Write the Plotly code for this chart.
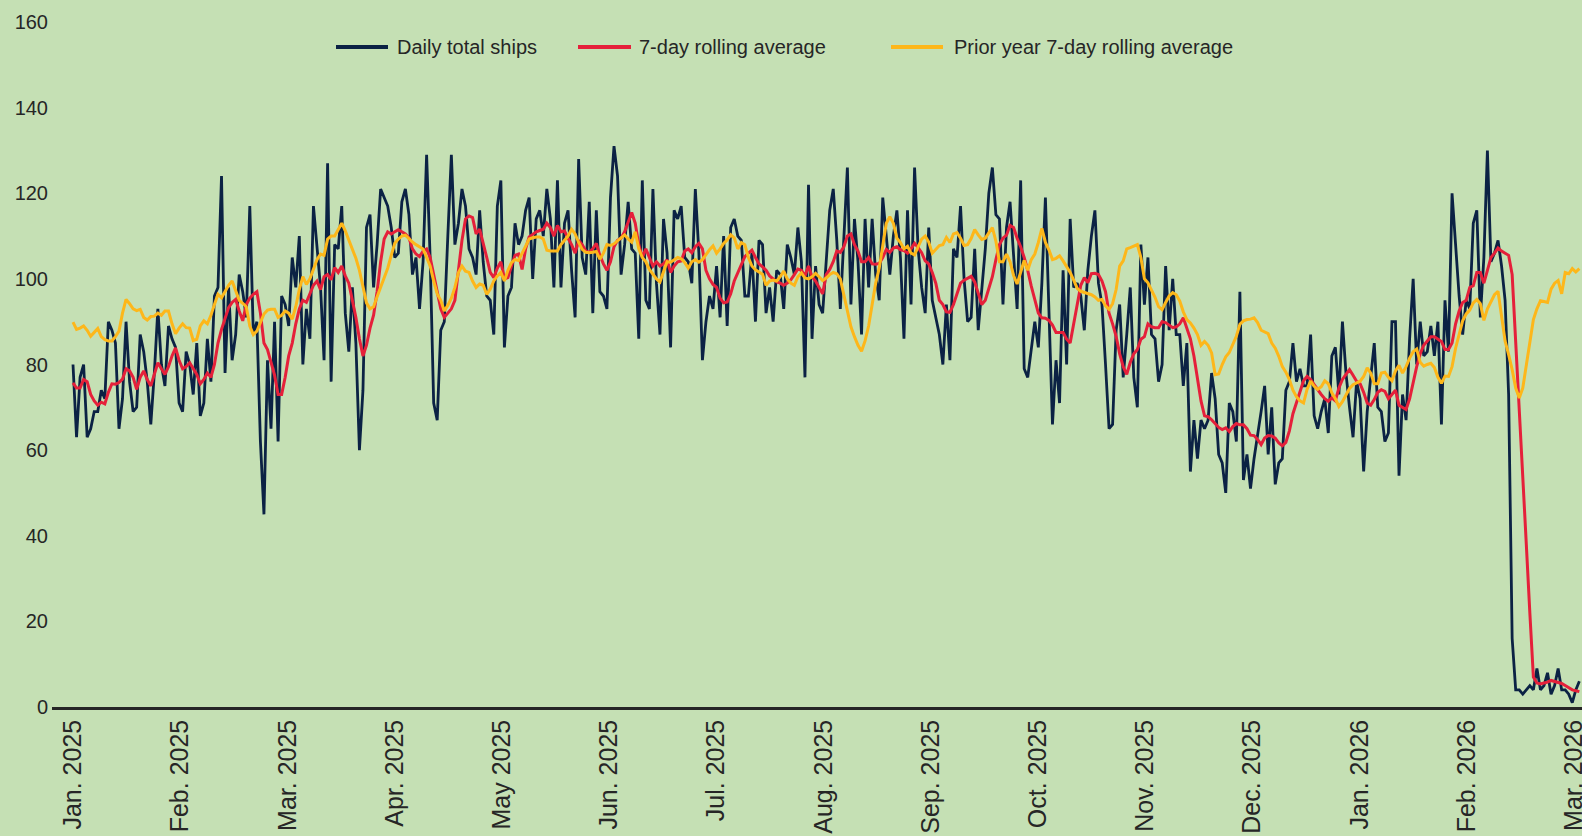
import pandas as pd
import plotly.graph_objects as go

start_date = "2025-01-01"

tick_labels = ["Jan. 2025", "Feb. 2025", "Mar. 2025", "Apr. 2025", "May 2025", "Jun. 2025",
               "Jul. 2025", "Aug. 2025", "Sep. 2025", "Oct. 2025", "Nov. 2025", "Dec. 2025",
               "Jan. 2026", "Feb. 2026", "Mar. 2026"]

series_names = ["Daily total ships", "7-day rolling average", "Prior year 7-day rolling average"]

daily_total_ships = [
    80, 63, 77, 80, 63, 65, 69, 69, 74, 72, 90, 88, 85, 65, 72, 90, 76, 69, 70, 87,
    83, 76, 66, 78, 93, 80, 75, 89, 86, 84, 71, 69, 83, 80, 73, 85, 68, 71, 86, 76,
    96, 98, 124, 78, 98, 81, 87, 101, 97, 91, 117, 87, 90, 62, 45,
    81, 65, 90, 62, 96, 94, 89, 105, 98, 110, 80, 93, 86, 117, 107, 98, 81, 127, 76, 108,
    107, 117, 92, 83, 98, 85, 60, 74, 112, 115, 98, 108, 121, 119, 117, 112, 105, 106, 118, 121,
    115, 101, 105, 93, 104, 129, 105, 71, 67, 88,
    90, 110, 129, 108, 113, 121, 117, 107, 105, 101, 116, 104, 96, 95, 87, 117, 123, 84, 96, 98,
    113, 108, 110, 116, 119, 100, 114, 116, 110, 121, 114, 98, 123, 98, 113, 116, 102, 91, 128, 105,
    101, 118, 92, 116, 97, 96, 93, 119, 131, 124, 101, 108, 118, 107,
    106,
    86, 123, 95, 93, 121, 99, 87, 114, 106, 84, 116, 114, 117, 105, 104, 99, 121, 106, 81, 90,
    96, 93, 103, 91, 110, 89, 112, 114, 110, 109, 96, 96, 106, 90, 109, 108, 92, 98, 90, 102,
    101, 93, 108, 105, 101, 112, 104, 77, 122, 86, 103, 94, 92,
    104, 116, 121, 109, 93, 110, 126, 94, 114, 104, 87, 114, 98, 114, 101, 95, 119, 110, 101, 110,
    116, 105, 86, 116, 94, 126, 107, 98, 92, 112, 95, 91, 87, 80, 94, 81, 107, 105, 117, 100,
    90, 91, 107, 88, 98, 107, 120, 126, 115, 114, 94, 112, 118,
    105, 93, 123, 79, 77, 84, 90, 84, 99, 119, 90, 66, 81, 71, 102, 80, 114, 98, 99, 96,
    88, 102, 110, 116, 99, 94, 80, 65, 66, 88, 94, 77, 87, 98, 77, 70, 108, 94, 105, 87,
    86, 76, 80, 103, 88, 100, 87, 87, 75, 85, 55, 67, 58, 67,
    65, 67, 78, 72, 59, 57, 50, 71, 69, 62, 97, 53, 59, 51, 58, 63, 69, 75, 59, 70,
    52, 57, 58, 74, 76, 85, 76, 79, 75, 75, 87, 68, 65, 69, 72, 64, 82, 84, 73, 90,
    78, 70, 63, 76, 72, 55, 69, 77, 85, 70, 69, 62, 64, 90,
    90, 54, 73, 67, 86, 100, 80, 90, 82, 83, 89, 82, 90, 66, 95, 83, 120, 108, 96, 87,
    95, 93, 113, 116, 91, 105, 130, 104, 106, 109, 103, 95, 73, 16,
    4, 4, 3, 4, 5, 4, 9, 4, 5, 8, 3, 5, 9, 4, 4, 3, 1, 4, 6,
]

rolling_avg_7d = [
    75.7, 74.5, 74.5, 76.5, 76, 73, 71.5, 70.5, 71.2, 70.8,
    73.5, 75.5, 75.4, 75.8, 76.6, 79, 78.5, 77, 74.2, 77,
    78.5, 76.5, 75, 78, 80.4, 79, 77.7, 79.5, 82, 83.9,
    81, 79, 79.5, 80.4, 79, 77.7, 75.5, 76.5, 78, 77,
    80, 85, 88.2, 91, 93.3, 94.5, 95.2, 92.5, 90.2, 94,
    95.5, 96.4, 97, 92, 85, 83.5, 80.5, 77.5, 73, 73,
    77, 82, 85, 89.5, 93, 95, 94.5, 96.5, 98.5, 99.5,
    97.5, 100.5, 101, 99.8, 102.6, 101.5, 103, 100.7, 99, 95,
    91, 86, 82, 84.5, 88.5, 91.5, 97, 104, 109.3, 111,
    110.5, 111, 111.5, 111, 110.5, 109.6, 107, 105.8, 105.2, 106.5,
    107, 105, 101, 97, 93, 91, 92, 93, 95, 102,
    109, 114, 114.7, 114.3, 110.5, 111.6, 108.5, 105, 101.5, 100.3,
    102.5, 104, 100, 100.3, 103, 105.5, 105.8, 102.2, 107, 109.8,
    110.4, 111, 111.3, 111.6, 113, 112, 110, 112.5, 111, 111.2,
    109.5, 108, 106, 109, 108, 106.5, 106.2, 107, 108.3, 105.5,
    103.5, 102, 104, 107.5, 109, 109.5, 111, 113.5, 115.5, 113,
    108, 105, 107, 105, 103, 104, 103, 103.5, 104.5, 101.5,
    103, 104, 104.2, 106.5, 107, 106.1, 107.5, 108.3, 107, 102,
    100, 98.7, 98, 95.5, 94.4, 94.6, 96.5, 99.5, 101.5, 103.5,
    105.2, 106, 106.7, 105, 103.5, 102.8, 102, 100.7, 100, 99.3,
    99, 98.5, 99, 99.8, 101, 102.3, 102, 100.7, 103, 100.5,
    99.5, 98, 96.5, 101, 102.2, 104, 106.5, 106.2, 107.5, 110,
    110.5, 108, 106.5, 104, 104, 105, 103.5, 103.4, 103.6, 105,
    106.9, 106.2, 107.2, 107.5, 106.8, 106.6, 106, 107, 108.3, 107.3,
    106.1, 104.2, 103.5, 101.5, 99, 95, 94, 92.3, 92.2, 94,
    96.5, 99, 99.7, 100.2, 100.6, 99.3, 96.5, 94, 95, 98,
    100.5, 104.5, 108, 109.5, 110.2, 112.5, 112, 109.5, 107.5, 105,
    102, 98.3, 95, 92, 90.9, 90.8, 90.3, 89.2, 87.5, 87.5,
    87.5, 85.9, 85, 89.5, 94.5, 98.5, 100.3, 99.1, 101.2, 101.3,
    101, 99.5, 97, 92, 89.5, 86.6, 82.5, 79.5, 77.7, 80.5,
    82.5, 83.5, 85.9, 86.5, 89.5, 88.8, 88.6, 88.6, 90, 89.8,
    89.2, 88.6, 88.8, 89.5, 90.9, 88.5, 86, 82, 76.5, 71.5,
    68, 67.8, 67.1, 66.3, 65.3, 64.8, 65.2, 64.3, 65.5, 66.2,
    65.9, 65.9, 65, 63.5, 63.4, 62.5, 61.3, 62.8, 63.4, 63.3,
    62.8, 61.7, 61, 61.8, 64.5, 68.5, 71, 73.5, 76.2, 77.2,
    76.5, 75.3, 74, 73, 72, 71.4, 72.2, 71.5, 74.5, 76.5,
    77.7, 78.8, 77.5, 76.1, 75.5, 73.5, 71, 70.5, 71.8, 73.5,
    74.1, 73.7, 72, 73, 74, 70.5, 70, 69.5, 72, 76,
    79.5, 82.5, 84.5, 85.5, 86.5, 86.5, 86, 85.4, 83.5, 83.5,
    85, 89.5, 92.5, 94.5, 95, 98, 98.4, 101.5, 101.5, 99,
    102, 105, 106, 107.2, 106.5, 105.9, 105.5, 101, 86, 70,
    54, 38, 22, 7, 5.6, 5.4, 5.6, 5.8, 6.2, 6,
    5.8, 5.5, 5, 4.5, 4, 3.8, 3.6,
]

prior_year_rolling_avg_7d = [
    89.9, 88.2, 88.5, 89, 88, 86.6, 87.5, 88.4, 86.5, 85.8,
    85.5, 85.5, 86.5, 87.8, 92, 95.2, 94.2, 93, 92.6, 92.9,
    91, 90.4, 91.2, 91.3, 92, 91.5, 92.5, 92.5, 89.5, 87.2,
    88.5, 89.5, 88.6, 88.5, 85.6, 85.9, 89, 90.2, 89.5, 91.5,
    94, 96.4, 95.6, 97, 98.5, 99.5, 97, 95, 94.3, 93.5,
    89, 87, 87.8, 90, 91.8, 92.7, 92.9, 92.9, 91, 91.5,
    92.5, 92, 90.6, 93.5, 97.5, 100.5, 98.7, 100, 102.5, 104.5,
    105.8, 105.5, 109.3, 110, 110, 111.5, 113, 111.2, 109, 107,
    104.8, 102, 98.5, 94.4, 93, 93.5, 95.8, 98, 100, 102.5,
    105.5, 108.3, 109.3, 110, 110.2, 109.3, 108.6, 108, 107.5, 107,
    105, 103, 99.5, 96.5, 95, 92.5, 93.8, 95.5, 98, 101.5,
    103, 101.8, 101.5, 99.5, 98, 98.8, 98.5, 96.4, 97.6, 99.5,
    100.7, 101.5, 99.5, 102, 103.8, 104.5, 104.3, 106, 107.5, 109.3,
    109.6, 109.8, 109.8, 109.3, 106.7, 106.5, 106.5, 106.5, 108, 109,
    110, 111.6, 110.5, 108.5, 106.9, 106.2, 106.1, 106.2, 106.4, 104.6,
    106, 108, 107.8, 108.2, 108.9, 109.8, 110.3, 109.3, 108.6, 111,
    107, 105, 104, 102.2, 101.2, 100, 99.3, 101.5, 104, 103.9,
    104.4, 105, 104.7, 103.8, 102.5, 104, 104.5, 103.9, 104.5, 105.8,
    106.8, 107.7, 106, 107, 108.3, 109.1, 110.3, 109.6, 107, 108.5,
    108, 105, 103, 102.1, 101.6, 101.1, 98.5, 99.5, 99.7, 99.5,
    100.5, 101.8, 100, 99, 98.5, 100.5, 101.4, 100.2, 100, 100.5,
    101.3, 100.5, 99.6, 100.2, 101, 101.5, 101.2, 100, 96.5, 93,
    88.8, 86.5, 84.5, 83.1, 85.5, 89, 94, 99, 102.5, 108,
    113, 114.5, 113, 109.5, 108.5, 107, 107.6, 106, 105.6, 107.5,
    109.3, 110, 108.6, 106, 106.8, 107.8, 108, 109.7, 108.5, 110.5,
    110.8, 109.5, 107.8, 108, 109.4, 111.5, 110.3, 109.2, 109.5, 110.8,
    112, 108.8, 104, 104, 105.8, 104, 100.8, 98.8, 101.8, 104.3,
    102, 104.5, 105.8, 108.5, 111.8, 108.5, 106.8, 104.5, 104.8, 105.4,
    104.2, 102.8, 101.5, 99.7, 97.8, 97.1, 96.8, 96.6, 96.3, 95.8,
    95, 95.2, 93.7, 92.9, 94.2, 97.5, 103, 104.2, 107, 107.3,
    107.6, 108, 105, 100, 99.1, 97.5, 95.7, 93.5, 92.8, 94.5,
    96, 96.8, 96.3, 94.8, 92.3, 90.5, 89.7, 88.5, 87, 84.5,
    85.4, 84.5, 82.7, 77.6, 77.8, 80, 81.8, 82.8, 84.8, 86.6,
    89.4, 90.2, 90.5, 90.6, 90.9, 89.8, 88, 87.5, 87.2, 85,
    83.8, 81.9, 79.5, 78.2, 76.5, 74, 72.5, 71.5, 71, 74.2,
    76.1, 74.9, 74.2, 74.8, 76.2, 75.5, 73.4, 72, 70.2, 71.3,
    73, 74.4, 75.3, 75.8, 76.1, 77.2, 79.2, 78, 75.5, 75.5,
    78, 78.2, 77, 76.2, 78.5, 79.8, 78, 79.5, 81.5, 83,
    83.6, 80.5, 79.6, 80, 80.3, 79.3, 77, 75.6, 77.3, 77.2,
    79.5, 83.8, 87.2, 90.2, 91.8, 92.7, 94.4, 95.2, 94.2, 90.3,
    93, 94.6, 96.3, 97.1, 91, 85.5, 82.3, 78.8, 74.5, 72.2,
    74.5, 79.6, 84.5, 90.5, 93, 94.9, 94.7, 94.5, 97.6, 99,
    99.6, 96.5, 101.5, 101.2, 102.4, 101.6, 102.4,
]

colors = ["#0B2244", "#E5203A", "#FDB71A"]
line_widths = [2.8, 3.0, 3.0]
bg = "#C5E0B4"
text_color = "#262626"
font_family = "Liberation Sans, Arial, sans-serif"

W, H = 1582, 836
ML, MR, MT, MB = 52, 0, 22, 129
PW, PH = W - ML - MR, H - MT - MB

t0 = pd.Timestamp(start_date)
series_values = [daily_total_ships, rolling_avg_7d, prior_year_rolling_avg_7d]

tick_step_days = 30.32
tickvals = [t0 + pd.Timedelta(days=tick_step_days * i) for i in range(len(tick_labels))]
x_range = [t0 - pd.Timedelta(days=5.94), t0 + pd.Timedelta(days=426.75)]

fig = go.Figure()
for name, vals, col, lw in zip(series_names, series_values, colors, line_widths):
    fig.add_trace(go.Scatter(x=pd.date_range(t0, periods=len(vals), freq="D"), y=vals,
                             mode="lines", name=name, line=dict(color=col, width=lw),
                             showlegend=False))

# legend drawn as key lines + text at the reference's pixel positions
legend_sample_px = [(336, 388), (578, 631), (891, 943)]
legend_text_px = [395, 637, 952]
legend_y_px = 47


def px_x(p):
    return (p - ML) / PW


def px_y(p):
    return (H - MB - p) / PH


shapes = []
annotations = []
for (a, b), tx, name, col in zip(legend_sample_px, legend_text_px, series_names, colors):
    shapes.append(dict(type="line", xref="paper", yref="paper", x0=px_x(a), x1=px_x(b),
                       y0=px_y(legend_y_px), y1=px_y(legend_y_px),
                       line=dict(color=col, width=4)))
    annotations.append(dict(text=name, xref="paper", yref="paper", x=px_x(tx), y=px_y(legend_y_px),
                            xanchor="left", yanchor="middle", showarrow=False,
                            font=dict(family=font_family, size=20, color=text_color)))

fig.update_layout(
    width=W, height=H,
    paper_bgcolor=bg, plot_bgcolor=bg,
    margin=dict(l=ML, r=MR, t=MT, b=MB, autoexpand=False),
    showlegend=False,
    shapes=shapes, annotations=annotations,
    xaxis=dict(type="date", range=x_range, tickmode="array", tickvals=tickvals, ticktext=tick_labels,
               tickangle=-90, showgrid=False, zeroline=False, showline=True, automargin=False,
               ticklabeloverflow="allow",
               linecolor=text_color, linewidth=2.5, ticks="",
               tickfont=dict(family=font_family, size=25, color=text_color)),
    yaxis=dict(range=[0, 160], dtick=20, tick0=0, showgrid=False, zeroline=False, showline=False,
               automargin=False, ticks="", ticklabelstandoff=3,
               tickfont=dict(family=font_family, size=20, color=text_color)),
)

fig.write_html("out.html", config={"displayModeBar": False},
               post_script="document.body.style.margin='0px';document.body.style.overflow='hidden';")
